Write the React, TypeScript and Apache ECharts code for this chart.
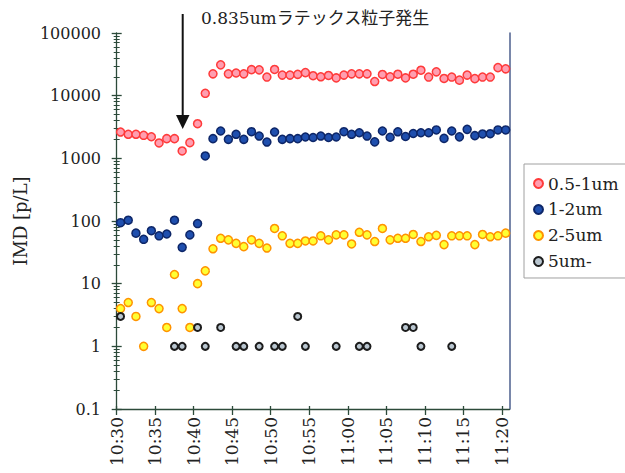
import React, { useEffect, useRef } from "react";
import * as echarts from "echarts";

const FONT = "'DejaVu Serif', 'Noto Sans CJK JP', serif";
const AXIS_COLOR = "#2c4a3a";
const BORDER_COLOR = "#4d5f8e";
const TEXT_COLOR = "#222";

// measurement times (one sample per minute)
const times = [
  "10:30:30", "10:31:30", "10:32:30", "10:33:30", "10:34:30", "10:35:30", "10:36:30", "10:37:30", "10:38:30", "10:39:30",
  "10:40:30", "10:41:30", "10:42:30", "10:43:30", "10:44:30", "10:45:30", "10:46:30", "10:47:30", "10:48:30", "10:49:30",
  "10:50:30", "10:51:30", "10:52:30", "10:53:30", "10:54:30", "10:55:30", "10:56:30", "10:57:30", "10:58:30", "10:59:30",
  "11:00:30", "11:01:30", "11:02:30", "11:03:30", "11:04:30", "11:05:30", "11:06:30", "11:07:30", "11:08:30", "11:09:30",
  "11:10:30", "11:11:30", "11:12:30", "11:13:30", "11:14:30", "11:15:30", "11:16:30", "11:17:30", "11:18:30", "11:19:30",
  "11:20:30",
];

const seriesNames = ["0.5-1um", "1-2um", "2-5um", "5um-"];

const size05to1 = [
  2630, 2420, 2420, 2330, 2210, 1760, 2060, 2060, 1310, 1780,
  3570, 10900, 22300, 31000, 22300, 23000, 22300, 26000, 25800, 19800,
  26200, 21300, 21300, 21900, 23300, 20800, 20000, 21000, 19200, 21300,
  22300, 22300, 22300, 16800, 21800, 20000, 22000, 19200, 22000, 25500,
  19800, 24000, 18800, 19800, 17700, 21300, 18700, 19800, 19800, 28000,
  26800,
];

const size1to2 = [
  94, 103, 64, 51, 70, 58, 62, 103, 38, 60,
  91, 1090, 2060, 2730, 2010, 2420, 2010, 2660, 2270, 1820,
  2630, 2010, 2060, 2060, 2190, 2150, 2270, 2150, 2190, 2660,
  2420, 2560, 2270, 1830, 2730, 2170, 2650, 2230, 2490, 2560,
  2560, 2840, 2080, 2730, 2200, 2900, 2300, 2450, 2470, 2840,
  2840,
];

const size2to5 = [
  4, 5, 3, 1, 5, 4, 2, 14, 4, 2,
  10, 16, 36, 53, 50, 44, 39, 50, 44, 37,
  76, 58, 44, 44, 48, 48, 58, 50, 60, 60,
  43, 66, 60, 47, 76, 50, 53, 53, 61, 47,
  56, 59, 42, 58, 58, 58, 42, 61, 56, 58,
  64,
];

const size5up = [
  3, null, null, null, null, null, null, 1, 1, null,
  2, 1, null, 2, null, 1, 1, null, 1, null,
  1, 1, null, 3, 1, null, null, null, 1, null,
  null, 1, 1, null, null, null, null, 2, 2, 1,
  null, null, null, 1, null, null, null, null, null, null,
  null,
];

const xTickLabels = ["10:30", "10:35", "10:40", "10:45", "10:50", "10:55", "11:00", "11:05", "11:10", "11:15", "11:20"];
const yTickLabels = ["0.1", "1", "10", "100", "1000", "10000", "100000"];

function toMinutes(t: string): number {
  const p = t.split(":").map(Number);
  return p[0] * 60 + p[1] + (p[2] || 0) / 60 - (10 * 60 + 30);
}

const xTickValues = xTickLabels.map(toMinutes);
const yTickValues = yTickLabels.map(Number);
const yMinorValues: number[] = [];
for (let k = 0; k < yTickValues.length - 1; k++) {
  for (let m = 2; m <= 9; m++) yMinorValues.push(m * yTickValues[k]);
}

const X_MIN = -0.09;
const X_MAX = 51.0;
const GRID = { left: 116, top: 33, right: 115.5, bottom: 64 };

function pairs(values: (number | null)[]) {
  const out: number[][] = [];
  values.forEach((v, i) => {
    if (v !== null && v !== undefined) out.push([toMinutes(times[i]), v]);
  });
  return out;
}

export default function App() {
  const ref = useRef<HTMLDivElement>(null);

  useEffect(() => {
    if (!ref.current) return;
    const chart = echarts.init(ref.current, undefined, { renderer: "svg" });

    const styles = [
      { color: "#ff9eb0", borderColor: "#ff3a3a", borderWidth: 1.5, size: 8 },
      { color: "#1f4fae", borderColor: "#0d2668", borderWidth: 1.5, size: 8 },
      { color: "#ffff33", borderColor: "#ff9300", borderWidth: 1.5, size: 8 },
      { color: "#b9c6d0", borderColor: "#1c1c1c", borderWidth: 2, size: 7 },
    ];
    const dataSets = [size05to1, size1to2, size2to5, size5up];

    const xLabelFor = (v: number) => {
      const i = xTickValues.findIndex((t) => Math.abs(t - v) < 1e-6);
      return i >= 0 ? xTickLabels[i] : "";
    };
    const yLabelFor = (v: number) => {
      const i = yTickValues.findIndex((t) => Math.abs(Math.log10(t) - Math.log10(v)) < 1e-6);
      return i >= 0 ? yTickLabels[i] : "";
    };

    const hiddenX = (gridIndex: number, tick: any) => ({
      type: "value",
      gridIndex,
      min: X_MIN,
      max: X_MAX,
      axisLine: { show: false },
      axisLabel: { show: false },
      splitLine: { show: false },
      axisTick: tick,
    });
    const hiddenY = (gridIndex: number, tick: any) => ({
      type: "log",
      logBase: 10,
      gridIndex,
      min: 0.1,
      max: 100000,
      axisLine: { show: false },
      axisLabel: { show: false },
      splitLine: { show: false },
      axisTick: tick,
    });

    chart.setOption({
      animation: false,
      backgroundColor: "#ffffff",
      textStyle: { fontFamily: FONT },
      grid: [
        { ...GRID, containLabel: false },
        { ...GRID, containLabel: false },
        { ...GRID, containLabel: false },
        { ...GRID, containLabel: false },
      ],
      xAxis: [
        {
          type: "value",
          gridIndex: 0,
          min: X_MIN,
          max: X_MAX,
          axisLine: { show: true, lineStyle: { color: AXIS_COLOR, width: 1.3 } },
          axisTick: { show: true, customValues: xTickValues, length: 6, lineStyle: { color: AXIS_COLOR, width: 1.3 } },
          axisLabel: {
            customValues: xTickValues,
            formatter: (v: number) => xLabelFor(v),
            rotate: 90,
            margin: 8,
            fontSize: 17,
            fontFamily: FONT,
            color: TEXT_COLOR,
          },
          splitLine: { show: false },
        },
        hiddenX(1, { show: true, inside: true, customValues: xTickValues, length: 3, lineStyle: { color: AXIS_COLOR, width: 1.3 } }),
        hiddenX(2, { show: false }),
        hiddenX(3, { show: false }),
      ],
      yAxis: [
        {
          type: "log",
          logBase: 10,
          gridIndex: 0,
          min: 0.1,
          max: 100000,
          name: "IMD [p/L]",
          nameLocation: "middle",
          nameGap: 86,
          nameTextStyle: { fontSize: 18, fontFamily: FONT, color: TEXT_COLOR },
          axisLine: { show: true, lineStyle: { color: AXIS_COLOR, width: 1.3 } },
          axisTick: { show: true, customValues: yTickValues, length: 5, lineStyle: { color: AXIS_COLOR, width: 1.3 } },
          axisLabel: {
            customValues: yTickValues,
            formatter: (v: number) => yLabelFor(v),
            margin: 15,
            fontSize: 16,
            fontFamily: FONT,
            color: TEXT_COLOR,
          },
          splitLine: { show: false },
        },
        {
          type: "log",
          logBase: 10,
          gridIndex: 0,
          position: "right",
          min: 0.1,
          max: 100000,
          axisLine: { show: true, lineStyle: { color: BORDER_COLOR, width: 1.5 } },
          axisTick: { show: false },
          axisLabel: { show: false },
          splitLine: { show: false },
        },
        hiddenY(1, { show: true, inside: true, customValues: yTickValues, length: 5, lineStyle: { color: AXIS_COLOR, width: 1.3 } }),
        hiddenY(2, { show: true, customValues: yMinorValues, length: 3, lineStyle: { color: AXIS_COLOR, width: 1 } }),
        hiddenY(3, { show: true, inside: true, customValues: yMinorValues, length: 3, lineStyle: { color: AXIS_COLOR, width: 1 } }),
      ],
      legend: {
        orient: "vertical",
        left: 524,
        top: 164,
        icon: "circle",
        itemWidth: 9,
        itemHeight: 9,
        itemGap: 9,
        padding: [11, 8, 8, 9],
        borderColor: "#a0a0a0",
        borderWidth: 1,
        textStyle: { fontFamily: FONT, fontSize: 17, color: TEXT_COLOR },
        data: seriesNames,
      },
      series: seriesNames.map((name, i) => ({
        name,
        type: "scatter",
        xAxisIndex: 0,
        yAxisIndex: 0,
        symbol: "circle",
        symbolSize: styles[i].size,
        itemStyle: {
          color: styles[i].color,
          borderColor: styles[i].borderColor,
          borderWidth: styles[i].borderWidth,
          opacity: 1,
        },
        data: pairs(dataSets[i]),
      })),
      graphic: [
        {
          type: "line",
          shape: { x1: 182.7, y1: 14, x2: 182.7, y2: 117 },
          style: { stroke: "#111", lineWidth: 2 },
        },
        {
          type: "polygon",
          shape: { points: [[176, 115], [189.5, 115], [182.7, 129]] },
          style: { fill: "#111" },
        },
        {
          type: "text",
          x: 201,
          y: 18,
          style: {
            text: "0.835umラテックス粒子発生",
            fontSize: 17,
            fontFamily: FONT,
            fill: TEXT_COLOR,
            verticalAlign: "middle",
          },
        },
      ],
    });

    return () => chart.dispose();
  }, []);

  return (
    <div
      ref={ref}
      style={{ position: "fixed", left: 0, top: 0, width: 625, height: 473, background: "#fff" }}
    />
  );
}
